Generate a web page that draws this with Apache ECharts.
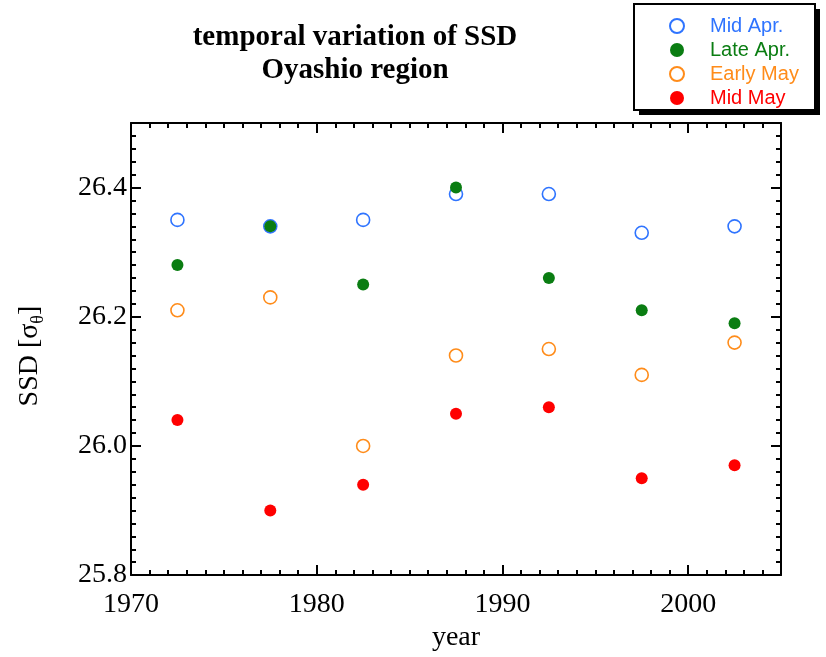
<!DOCTYPE html>
<html>
<head>
<meta charset="utf-8">
<script src="https://cdn.jsdelivr.net/npm/echarts@6/dist/echarts.min.js"></script>
<style>html,body{margin:0;padding:0;background:#fff}#c{width:826px;height:657px}</style>
</head>
<body>
<div id="c"></div>
<script>
const years = [1972.5, 1977.5, 1982.5, 1987.5, 1992.5, 1997.5, 2002.5];
const seriesNames = ['Mid Apr.', 'Late Apr.', 'Early May', 'Mid May'];
const midApr = [26.35, 26.34, 26.35, 26.39, 26.39, 26.33, 26.34];
const lateApr = [26.28, 26.34, 26.25, 26.40, 26.26, 26.21, 26.19];
const earlyMay = [26.21, 26.23, 26.00, 26.14, 26.15, 26.11, 26.16];
const midMay = [26.04, 25.90, 25.94, 26.05, 26.06, 25.95, 25.97];

const colors = ['#2f74ff', '#0a7d12', '#ff8c1a', '#ff0000'];
const hollow = [true, false, true, false];
const values = [midApr, lateApr, earlyMay, midMay];

const serif = '"Liberation Serif", "Times New Roman", serif';
const sans = '"Liberation Sans", Arial, sans-serif';

function xAx(pos, major, withLabel) {
  return {
    type: 'value', position: pos, min: 1970, max: 2005, interval: major ? 10 : 1,
    axisLine: { show: major, lineStyle: { color: '#000', width: 2 } },
    axisTick: { show: true, inside: true, length: major ? 10 : 5, lineStyle: { color: '#000', width: 2 } },
    axisLabel: { show: withLabel, showMaxLabel: false, color: '#000', fontFamily: serif, fontSize: 28, margin: 16,
      formatter: v => String(v) },
    splitLine: { show: false },
    name: withLabel ? 'year' : '',
    nameLocation: 'middle', nameGap: 47,
    nameTextStyle: { color: '#000', fontFamily: serif, fontSize: 28 }
  };
}
function yAx(pos, major, withLabel) {
  return {
    type: 'value', position: pos, min: 25.8, max: 26.5, interval: major ? 0.2 : 0.02,
    axisLine: { show: major, lineStyle: { color: '#000', width: 2 } },
    axisTick: { show: true, inside: true, length: major ? 10 : 5, lineStyle: { color: '#000', width: 2 } },
    axisLabel: { show: withLabel, showMaxLabel: false, color: '#000', fontFamily: serif, fontSize: 28, margin: 4,
      formatter: v => v.toFixed(1) },
    splitLine: { show: false },
    name: withLabel ? 'SSD [σ{sub|θ}]' : '',
    nameLocation: 'middle', nameGap: 84, nameRotate: 90,
    nameTextStyle: { color: '#000', fontFamily: serif, fontSize: 28, padding: [0, 14, 0, 0],
      rich: { sub: { fontFamily: serif, fontSize: 18, verticalAlign: 'bottom', padding: [16, 0, 0, 0] } } }
  };
}

const series = seriesNames.map((n, i) => ({
  name: n, type: 'scatter', xAxisIndex: 0, yAxisIndex: 0,
  symbol: 'circle', symbolSize: hollow[i] ? 13 : 12,
  itemStyle: hollow[i]
    ? { color: '#fff', borderColor: colors[i], borderWidth: 1.6, opacity: 1 }
    : { color: colors[i], borderWidth: 0, opacity: 1 },
  data: years.map((y, k) => [y, values[i][k]]),
  z: 2 + i
}));

const chart = echarts.init(document.getElementById('c'), null, { renderer: 'canvas' });
chart.setOption({
  animation: false,
  backgroundColor: '#fff',
  title: {
    text: 'temporal variation of SSD\nOyashio region',
    left: 355, top: 21, textAlign: 'center', padding: 0,
    textStyle: { fontFamily: serif, fontWeight: 'bold', fontSize: 29, lineHeight: 33, color: '#000' }
  },
  graphic: [
    { type: 'rect', z: 0, shape: { x: 639, y: 9, width: 181, height: 106 }, style: { fill: '#000' } },
    { type: 'rect', z: 1, shape: { x: 634, y: 4, width: 181, height: 106 }, style: { fill: '#fff', stroke: '#000', lineWidth: 2 } }
  ],
  legend: {
    orient: 'vertical', left: 669, top: 16, padding: 0,
    itemWidth: 14, itemHeight: 14, itemGap: 4, z: 10,
    textStyle: { fontFamily: sans, fontSize: 20, lineHeight: 19, padding: [0, 0, 0, 21] },
    data: seriesNames.map((n, i) => ({ name: n, textStyle: { color: colors[i] } }))
  },
  grid: { left: 131, right: 45, top: 123, bottom: 81, containLabel: false },
  xAxis: [xAx('bottom', true, true), xAx('bottom', false, false), xAx('top', true, false), xAx('top', false, false)],
  yAxis: [yAx('left', true, true), yAx('left', false, false), yAx('right', true, false), yAx('right', false, false)],
  series: series
});
</script>
</body>
</html>
